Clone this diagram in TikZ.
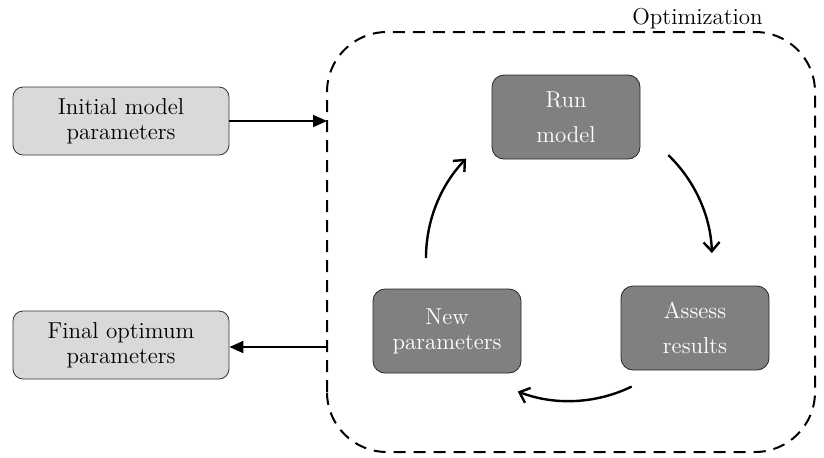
\documentclass[tikz,border=0pt]{standalone}
\usetikzlibrary{arrows.meta}

\definecolor{lightbox}{RGB}{217,217,217}
\definecolor{darkbox}{RGB}{128,128,128}

\tikzset{
  inoutbox/.style={draw=black!80, fill=lightbox, rounded corners=5pt, align=center,
    minimum width=108pt, minimum height=34pt, inner sep=2pt},
  stagebox/.style={draw=black!85, fill=darkbox, text=white, rounded corners=6pt, align=center,
    minimum width=74pt, minimum height=42pt, inner sep=2pt},
  flow/.style={line width=1pt, -{Triangle[length=7pt,width=6pt]}},
  cycle/.style={line width=1.2pt, -{Straight Barb[length=4.5pt,width=8pt]}}
}

\begin{document}
\begin{tikzpicture}[x=0.5pt, y=0.5pt, font=\fontsize{11.5}{12.5}\selectfont]
\useasboundingbox (0,0) rectangle (824,457);

\draw[line width=1pt, dash pattern=on 6pt off 4pt, rounded corners=30pt] (327,5) rectangle (815,425);
\node[anchor=base east, inner sep=0pt] (optlabel) at (763,433) {Optimization};

\node[inoutbox] (init) at (121,336) {Initial model\\parameters};
\node[inoutbox] (final) at (121,112) {Final optimum\\parameters};

\coordinate (optin) at (327,336);
\coordinate (optout) at (327,110);
\draw[flow] (init) -- (optin);
\draw[flow] (optout) -- (optout -| final.east);

\node[stagebox] (run) at (566,340) {Run\\[5pt]model};
\node[stagebox] (assess) at (695,129) {Assess\\[5pt]results};
\node[stagebox] (new) at (447,126) {New\\parameters};

% loop round the three stages
\coordinate (loop) at (569,199);
\draw[cycle] ([shift={(46:143)}]loop) arc (46:2:143);
\draw[cycle] ([shift={(-64:143)}]loop) arc (-64:-111:143);
\draw[cycle] ([shift={(180:143)}]loop) arc (180:136:143);

\end{tikzpicture}
\end{document}
